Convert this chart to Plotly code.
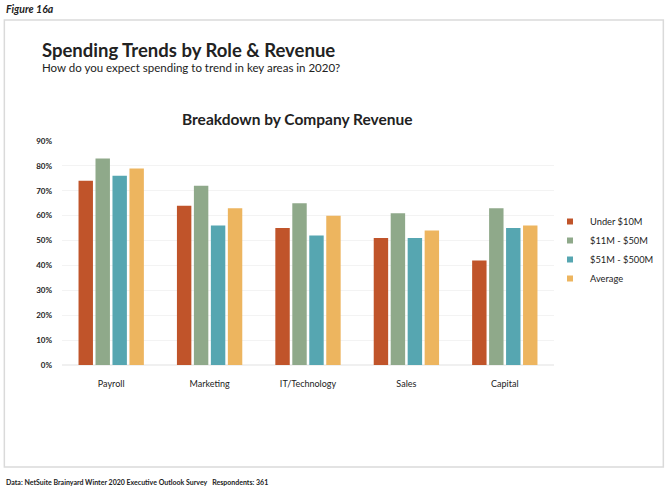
import plotly.graph_objects as go

# ============================================================
# Data
# ============================================================
CATEGORIES = ["Payroll", "Marketing", "IT/Technology", "Sales", "Capital"]
SERIES_NAMES = ["Under $10M", "$11M - $50M", "$51M - $500M", "Average"]
UNDER_10M = [74, 64, 55, 51, 42]
M11_50 = [83, 72, 65, 61, 63]
M51_500 = [76, 56, 52, 51, 55]
AVERAGE = [79, 63, 60, 54, 56]
Y_TICKS = [0, 10, 20, 30, 40, 50, 60, 70, 80, 90]

COLORS = ["#C0542A", "#8FA98A", "#56A6B1", "#EDB55F"]

# ============================================================
# Layout geometry (pixels)
# ============================================================
W, H = 671, 490
ML, MR, MT, MB = 62, 114, 141, 125
PW, PH = W - ML - MR, H - MT - MB


def px(x):
    return (x - ML) / PW


def py(y):
    return (H - MB - y) / PH


FONT = "Lato"

fig = go.Figure()
for name, vals, col in zip(SERIES_NAMES, [UNDER_10M, M11_50, M51_500, AVERAGE], COLORS):
    fig.add_trace(
        go.Bar(
            x=CATEGORIES,
            y=vals,
            name=name,
            marker=dict(color=col, line=dict(width=0)),
            showlegend=False,
        )
    )
    # small square legend swatch
    fig.add_trace(
        go.Scatter(
            x=[None],
            y=[None],
            mode="markers",
            name=name,
            marker=dict(color=col, symbol="square", size=6),
        )
    )

fig.update_layout(
    width=W,
    height=H,
    margin=dict(l=ML, r=MR, t=MT, b=MB),
    paper_bgcolor="white",
    plot_bgcolor="white",
    barmode="group",
    bargap=0.31,
    bargroupgap=0.15,
    font=dict(family=FONT, color="#222"),
    showlegend=True,
    legend=dict(
        x=px(553),
        y=py(207),
        xanchor="left",
        yanchor="top",
        font=dict(size=9.3, color="#222", family=FONT),
        itemwidth=30,
        tracegroupgap=0,
        bgcolor="rgba(0,0,0,0)",
    ),
    xaxis=dict(
        showline=False,
        ticks="",
        tickfont=dict(size=9, color="#222"),
        ticklabelstandoff=12,
    ),
    yaxis=dict(
        range=[0, 90],
        tickvals=Y_TICKS,
        ticktext=[f"<b>{v}%</b>" for v in Y_TICKS],
        tickfont=dict(size=8, color="#222"),
        showgrid=True,
        gridcolor="#F3F3F3",
        gridwidth=1,
        zeroline=True,
        zerolinecolor="#F0F0F0",
        ticklabelstandoff=9,
    ),
)

# card border
fig.add_shape(
    type="rect",
    xref="paper",
    yref="paper",
    x0=px(4),
    x1=px(667),
    y0=py(20),
    y1=py(467),
    line=dict(color="#DADADA", width=1.5),
    fillcolor="rgba(0,0,0,0)",
    layer="below",
)

texts = [
    (4, 9, "<b><i>Figure 16a</i></b>", 10.5, FONT),
    (40, 50, "<b>Spending Trends by Role &amp; Revenue</b>", 18.5, FONT),
    (40, 67, "How do you expect spending to trend in key areas in 2020?", 11.5, FONT),
    (4, 482, "<b>Data: NetSuite Brainyard Winter 2020 Executive Outlook Survey   Respondents: 361</b>",
     7, FONT),
]
for x, y, t, s, f in texts:
    fig.add_annotation(
        xref="paper", yref="paper", x=px(x), y=py(y), text=t, showarrow=False,
        xanchor="left", yanchor="middle", font=dict(size=s, family=f, color="#222"),
    )

fig.add_annotation(
    xref="paper", yref="paper", x=px(299), y=py(119),
    text="<b>Breakdown by Company Revenue</b>", showarrow=False,
    xanchor="center", yanchor="middle", font=dict(size=15.5, family=FONT, color="#222"),
)

fig.write_html(
    "out.html",
    config={"displayModeBar": False},
    post_script="document.body.style.margin='0';document.body.style.overflow='hidden';",
)
